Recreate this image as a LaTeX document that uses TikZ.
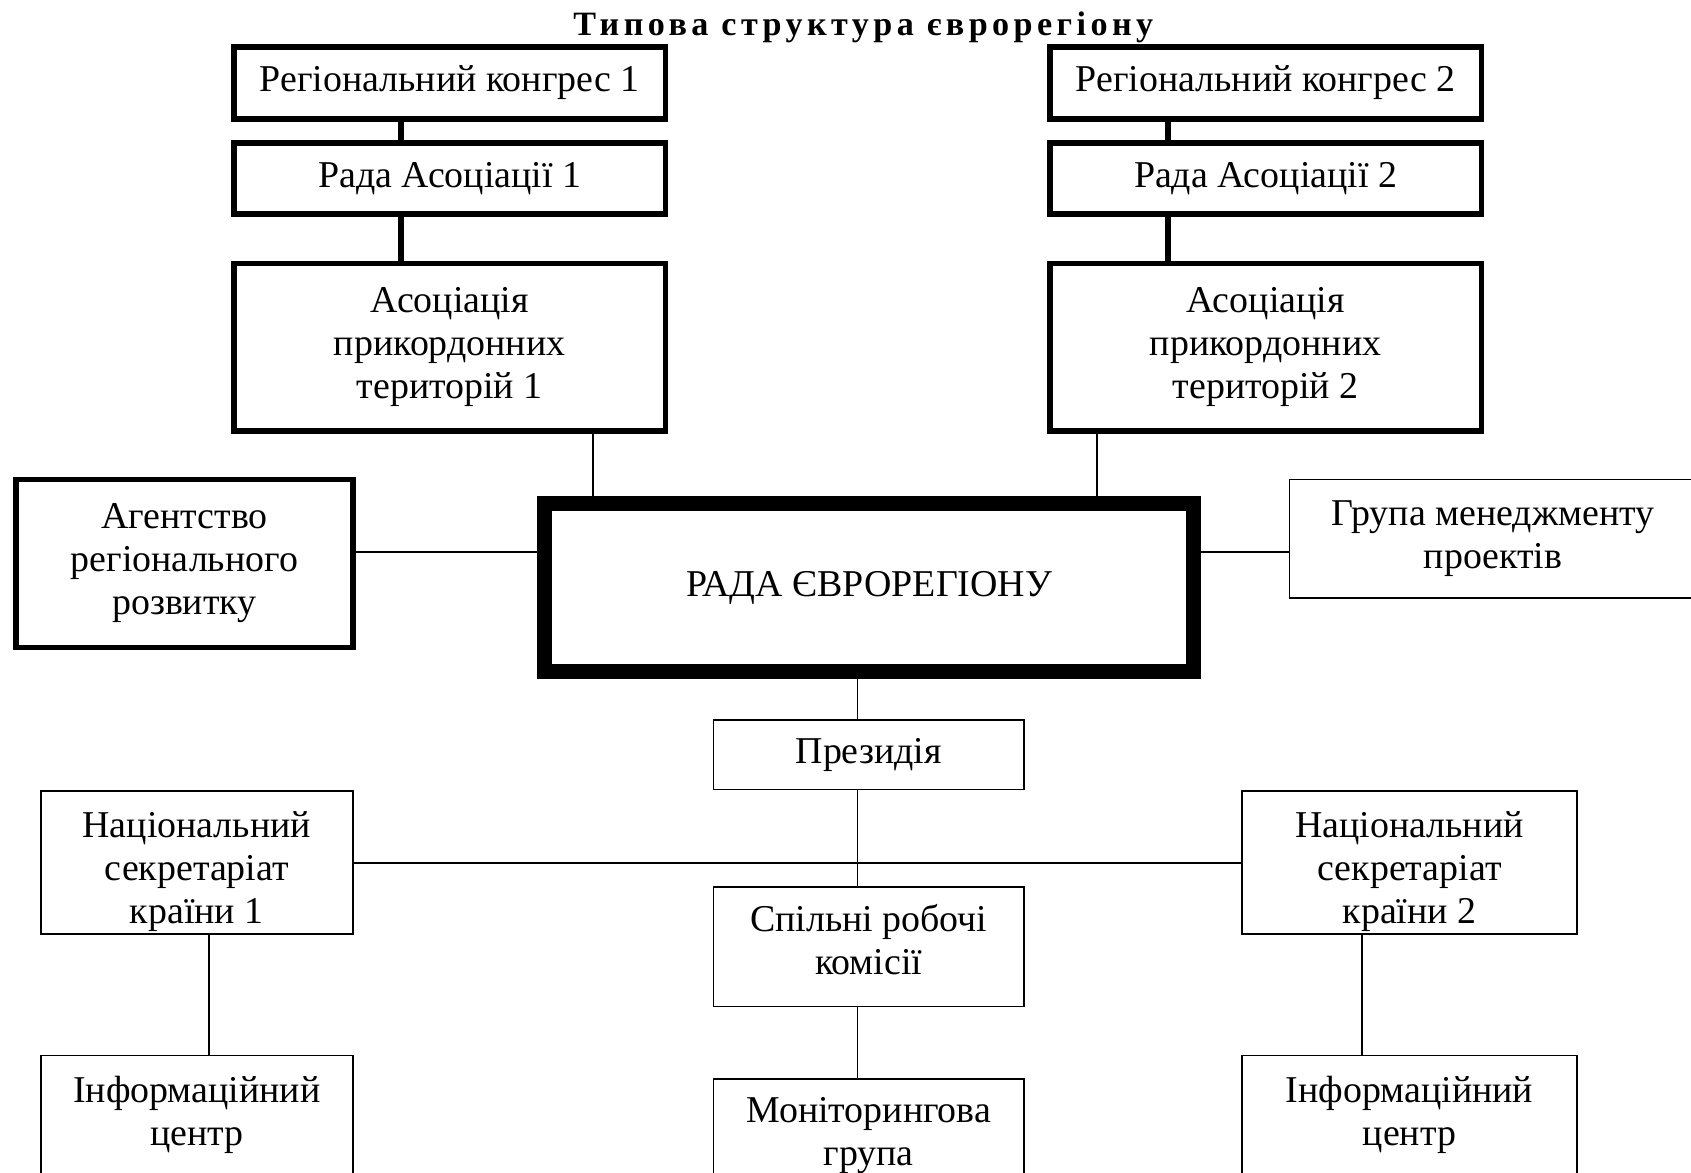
\documentclass[tikz,border=0pt]{standalone}
\usepackage{fontspec}
\setmainfont{Liberation Serif}
\usetikzlibrary{positioning}

\begin{document}
\begin{tikzpicture}[
    box/.style={draw=black, line width=0.03cm, align=center, inner sep=0pt,
      font=\fontsize{20pt}{22.7pt}\selectfont},
    boldbox/.style={box, line width=0.1cm},
    mainbox/.style={box, line width=0.28cm},
    link/.style={line width=0.03cm, draw=black},
    boldlink/.style={link, line width=0.1cm}
  ]
    \useasboundingbox (0,0) rectangle (31.36,21.74);
    \clip (0,0) rectangle (31.36,21.74);
    \node[anchor=base, font=\fontsize{18pt}{20pt}\selectfont\bfseries\addfontfeatures{LetterSpace=13}] (title) at (16.01,21.09) {Типова структура єврорегіону};
    % left and right columns
    \node[boldbox, minimum width=8.0cm, minimum height=1.34cm] (rk1) at (8.34,20.2) {Регіональний конгрес 1};
    \node[boldbox, minimum width=8.0cm, minimum height=1.32cm] (ra1) at (8.34,18.43) {Рада Асоціації 1};
    \node[boldbox, minimum width=8.0cm, minimum height=3.1cm] (apt1) at (8.34,15.3) {Асоціація\\прикордонних\\територій 1};
    \node[boldbox, minimum width=8.0cm, minimum height=1.34cm] (rk2) at (23.47,20.2) {Регіональний конгрес 2};
    \node[boldbox, minimum width=8.0cm, minimum height=1.32cm] (ra2) at (23.47,18.43) {Рада Асоціації 2};
    \node[boldbox, minimum width=8.0cm, minimum height=3.1cm] (apt2) at (23.47,15.3) {Асоціація\\прикордонних\\територій 2};
    % council row
    \node[boldbox, minimum width=6.25cm, minimum height=3.12cm] (agency) at (3.42,11.29) {Агентство\\регіонального\\розвитку};
    \node[mainbox, minimum width=12.04cm, minimum height=3.12cm] (rada) at (16.12,10.84) {РАДА ЄВРОРЕГІОНУ};
    \node[box, minimum width=7.55cm, minimum height=2.19cm] (group) at (27.69,11.75) {Група менеджменту\\проектів};
    % lower part
    \node[box, minimum width=5.75cm, minimum height=1.29cm] (pres) at (16.11,7.74) {Президія};
    \node[box, minimum width=5.75cm, minimum height=2.21cm, text depth=8pt] (srk) at (16.11,4.18) {Спільні робочі\\комісії};
    \node[box, minimum width=5.75cm, minimum height=2.07cm] (mg) at (16.11,0.69) {Моніторингова\\група};
    \node[box, minimum width=5.79cm, minimum height=2.65cm] (ns1) at (3.65,5.74) {\rule{0pt}{22.7pt}Національний\\секретаріат\\країни 1};
    \node[box, minimum width=6.21cm, minimum height=2.65cm] (ns2) at (26.14,5.74) {\rule{0pt}{22.7pt}Національний\\секретаріат\\країни 2};
    \node[box, minimum width=5.79cm, minimum height=2.21cm] (ic1) at (3.65,1.06) {Інформаційний\\центр};
    \node[box, minimum width=6.21cm, minimum height=2.21cm] (ic2) at (26.14,1.06) {Інформаційний\\центр};
    % connectors
    \draw[boldlink] ([xshift=-0.9cm]rk1.south) -- ([xshift=-0.9cm]ra1.north);
    \draw[boldlink] ([xshift=-0.9cm]ra1.south) -- ([xshift=-0.9cm]apt1.north);
    \draw[boldlink] ([xshift=-1.81cm]rk2.south) -- ([xshift=-1.81cm]ra2.north);
    \draw[boldlink] ([xshift=-1.81cm]ra2.south) -- ([xshift=-1.81cm]apt2.north);
    \draw[link] ([xshift=2.66cm]apt1.south) -- ([xshift=2.66cm]apt1.south |- rada.north);
    \draw[link] ([xshift=-3.13cm]apt2.south) -- ([xshift=-3.13cm]apt2.south |- rada.north);
    \draw[link] ([yshift=0.21cm]agency.east) -- ([yshift=0.21cm]agency.east -| rada.west);
    \draw[link] ([yshift=0.66cm]rada.east) -- ([yshift=0.66cm]rada.east -| group.west);
    \draw[link] ([xshift=-0.21cm]pres.north |- rada.south) -- ([xshift=-0.21cm]pres.north);
    \draw[link] ([xshift=-0.21cm]pres.south) -- ([xshift=-0.21cm]srk.north);
    \draw[link] ([xshift=-0.21cm]srk.south) -- ([xshift=-0.21cm]mg.north);
    \draw[link] (ns1) -- (ns2);
    \draw[link] ([xshift=0.23cm]ns1.south) -- ([xshift=0.23cm]ic1.north);
    \draw[link] ([xshift=-0.88cm]ns2.south) -- ([xshift=-0.88cm]ic2.north);
  \end{tikzpicture}
\end{document}
